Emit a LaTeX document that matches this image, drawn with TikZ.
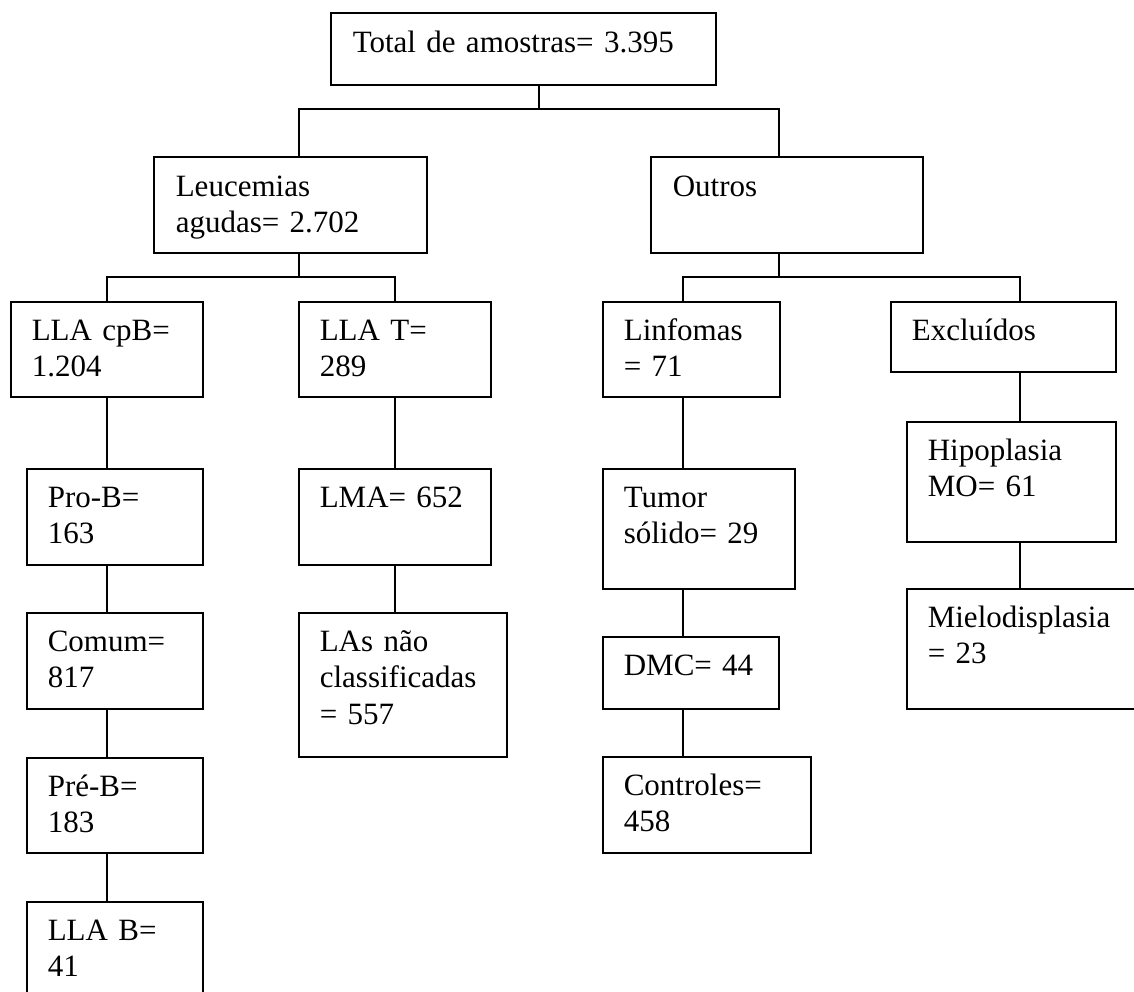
\documentclass[tikz,border=0pt]{standalone}
\usepackage{fontspec}
\setmainfont{Liberation Serif}
\usetikzlibrary{fit,calc}
\begin{document}
\begin{tikzpicture}[x=0.5pt,y=-0.5pt,
  box/.style={draw,line width=0.6pt,inner sep=0pt,fit={#1}},
  txt/.style={anchor=base west,inner sep=0pt,text width=220pt,align=left,
    font=\fontsize{15.5pt}{18.25pt}\selectfont},
  link/.style={line width=0.6pt}]
\useasboundingbox (0,0) rectangle (1134,991);
% boxes
\node[box={(331,13) (716,85)}]   (total) {};
\node[box={(154,157) (427,253)}] (leu) {};
\node[box={(651,157) (923,253)}] (outros) {};
\node[box={(11,302) (203,397)}]  (cpb) {};
\node[box={(299,302) (491,397)}] (llat) {};
\node[box={(603,302) (780,397)}] (linf) {};
\node[box={(891,302) (1116,372)}] (excl) {};
\node[box={(27,469) (203,565)}]  (prob) {};
\node[box={(299,469) (491,565)}] (lma) {};
\node[box={(603,469) (795,589)}] (tumor) {};
\node[box={(907,422) (1116,542)}] (hipo) {};
\node[box={(27,613) (203,709)}]  (comum) {};
\node[box={(299,613) (507,757)}] (las) {};
\node[box={(603,637) (779,709)}] (dmc) {};
\node[box={(907,589) (1145,709)}] (mielo) {};
\node[box={(27,758) (203,853)}]  (preb) {};
\node[box={(603,757) (811,853)}] (ctrl) {};
\node[box={(27,902) (203,1010)}] (llab) {};
% texts
\node[txt] (total-t) at ($(total.north west)+(22,40)$) {Total de amostras= 3.395};
\node[txt] (leu-t) at ($(leu.north west)+(22,40)$) {Leucemias\\agudas= 2.702};
\node[txt] (outros-t) at ($(outros.north west)+(22,40)$) {Outros};
\node[txt] (cpb-t) at ($(cpb.north west)+(21,39)$) {LLA cpB=\\1.204};
\node[txt] (llat-t) at ($(llat.north west)+(21,39)$) {LLA T=\\289};
\node[txt] (linf-t) at ($(linf.north west)+(21,39)$) {Linfomas\\= 71};
\node[txt] (excl-t) at ($(excl.north west)+(21,39)$) {Excluídos};
\node[txt] (prob-t) at ($(prob.north west)+(21,39)$) {Pro-B=\\163};
\node[txt] (lma-t) at ($(lma.north west)+(21,39)$) {LMA= 652};
\node[txt] (tumor-t) at ($(tumor.north west)+(21,39)$) {Tumor\\sólido= 29};
\node[txt] (hipo-t) at ($(hipo.north west)+(21,39)$) {Hipoplasia\\MO= 61};
\node[txt] (comum-t) at ($(comum.north west)+(21,39)$) {Comum=\\817};
\node[txt] (las-t) at ($(las.north west)+(21,39)$) {LAs não\\classificadas\\= 557};
\node[txt] (dmc-t) at ($(dmc.north west)+(21,39)$) {DMC= 44};
\node[txt] (mielo-t) at ($(mielo.north west)+(21,39)$) {Mielodisplasia\\= 23};
\node[txt] (preb-t) at ($(preb.north west)+(21,39)$) {Pré-B=\\183};
\node[txt] (ctrl-t) at ($(ctrl.north west)+(21,39)$) {Controles=\\458};
\node[txt] (llab-t) at ($(llab.north west)+(21,39)$) {LLA B=\\41};
% junction coordinates
\coordinate (j0) at (539,109);
\coordinate (b0l) at (299,109);
\coordinate (b0r) at (779,109);
\coordinate (j1) at (299,277);
\coordinate (b1l) at (107,277);
\coordinate (b1r) at (395,277);
\coordinate (j2) at (779,277);
\coordinate (b2l) at (683,277);
\coordinate (b2r) at (1020,277);
% connectors
\draw[link] (total.south -| j0) -- (j0);
\draw[link] (leu.north -| b0l) -- (b0l) -- (b0r) -- (outros.north -| b0r);
\draw[link] (leu.south -| j1) -- (j1);
\draw[link] (cpb.north -| b1l) -- (b1l) -- (b1r) -- (llat.north -| b1r);
\draw[link] (outros.south -| j2) -- (j2);
\draw[link] (linf.north -| b2l) -- (b2l) -- (b2r) -- (excl.north -| b2r);
\draw[link] (cpb.south -| b1l) -- (prob.north -| b1l);
\draw[link] (prob.south -| b1l) -- (comum.north -| b1l);
\draw[link] (comum.south -| b1l) -- (preb.north -| b1l);
\draw[link] (preb.south -| b1l) -- (llab.north -| b1l);
\draw[link] (llat.south -| b1r) -- (lma.north -| b1r);
\draw[link] (lma.south -| b1r) -- (las.north -| b1r);
\draw[link] (linf.south -| b2l) -- (tumor.north -| b2l);
\draw[link] (tumor.south -| b2l) -- (dmc.north -| b2l);
\draw[link] (dmc.south -| b2l) -- (ctrl.north -| b2l);
\draw[link] (excl.south -| b2r) -- (hipo.north -| b2r);
\draw[link] (hipo.south -| b2r) -- (mielo.north -| b2r);
\end{tikzpicture}
\end{document}
